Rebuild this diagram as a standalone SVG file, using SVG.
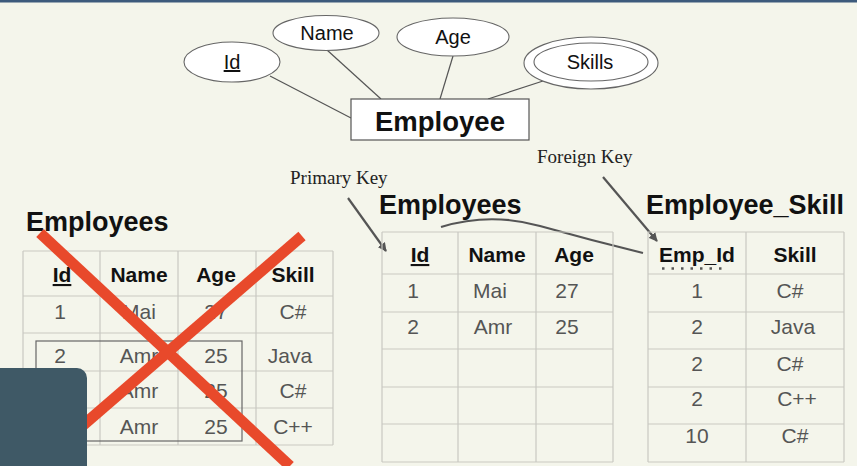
<svg xmlns="http://www.w3.org/2000/svg" width="857" height="466" viewBox="0 0 857 466">
<style>
.bg{fill:#f4f5eb}
.attr{fill:#ffffff;stroke:#666;stroke-width:1.1}
.lnk{stroke:#555;stroke-width:1.2;fill:none}
.grid{stroke:#c9c9c2;stroke-width:1.2;fill:none}
.t{font-family:"Liberation Sans",Arial,sans-serif;fill:#111}
.title{font-family:"Liberation Sans",Arial,sans-serif;font-weight:bold;font-size:27px;fill:#111}
.hd{font-family:"Liberation Sans",Arial,sans-serif;font-weight:bold;font-size:21px;fill:#111;text-anchor:middle}
.cell{font-family:"Liberation Sans",Arial,sans-serif;font-size:21px;fill:#555;text-anchor:middle}
.note{font-family:"Liberation Serif","Times New Roman",serif;font-size:19px;fill:#222}
.arr{stroke:#555;stroke-width:2.2;fill:none}
.x{stroke:#e8492b;stroke-width:11;stroke-linecap:butt}
</style>
<defs>
<marker id="ah" viewBox="0 0 10 10" refX="9" refY="5" markerWidth="4" markerHeight="4" orient="auto">
<path d="M0,0 L10,5 L0,10 z" fill="#555"/>
</marker>
</defs>
<rect class="bg" x="0" y="0" width="857" height="466"/>
<rect x="0" y="0" width="857" height="2.5" fill="#3d5a7c"/>

<g id="connectors">
<line class="lnk" x1="270" y1="76" x2="351" y2="118"/>
<line class="lnk" x1="327" y1="50" x2="381" y2="99"/>
<line class="lnk" x1="453" y1="56" x2="440" y2="99"/>
<line class="lnk" x1="543" y1="81" x2="488" y2="99"/>
<line class="arr" x1="348" y1="198" x2="386" y2="251" marker-end="url(#ah)"/>
<line class="arr" x1="603" y1="177" x2="657" y2="241" marker-end="url(#ah)"/>
<path class="arr" d="M441,227 Q490,212 540,226 T643,253"/>
</g>

<g id="attr-id">
<ellipse class="attr" cx="232" cy="62" rx="48" ry="20"/>
<text class="t" x="232" y="69" font-size="20" text-anchor="middle" text-decoration="underline">Id</text>
</g>
<g id="attr-name">
<ellipse class="attr" cx="326" cy="33" rx="53" ry="17.5"/>
<text class="t" x="327" y="40" font-size="20" text-anchor="middle">Name</text>
</g>
<g id="attr-age">
<ellipse class="attr" cx="453" cy="37" rx="56" ry="19"/>
<text class="t" x="453" y="44" font-size="20" text-anchor="middle">Age</text>
</g>
<g id="attr-skills">
<ellipse class="attr" cx="591" cy="63" rx="67" ry="26"/>
<ellipse class="attr" cx="591" cy="62" rx="57" ry="19"/>
<text class="t" x="590" y="69" font-size="20" text-anchor="middle">Skills</text>
</g>
<g id="entity-employee">
<rect x="351" y="99" width="178" height="41" fill="#ffffff" stroke="#555" stroke-width="1.2"/>
<text class="t" x="440" y="131" font-size="27.5" font-weight="bold" text-anchor="middle">Employee</text>
</g>

<g id="note-pk">
<text class="note" x="290" y="184">Primary Key</text>
</g>
<g id="note-fk">
<text class="note" x="537" y="163">Foreign Key</text>
</g>

<g id="table-old">
<text class="title" x="26" y="231">Employees</text>
<path class="grid" d="M23,251 H333 M23,296 H333 M23,333 H333 M23,371 H333 M23,408 H333 M23,445 H333 M23,251 V445 M100,251 V445 M178,251 V445 M256,251 V445 M333,251 V445"/>
<rect x="36" y="341" width="206" height="100" fill="none" stroke="#666" stroke-width="1.2"/>
<text class="hd" x="62" y="282" text-decoration="underline">Id</text>
<text class="hd" x="139" y="282">Name</text>
<text class="hd" x="216" y="282">Age</text>
<text class="hd" x="293" y="282">Skill</text>
<text class="cell" x="60" y="319">1</text>
<text class="cell" x="139" y="319">Mai</text>
<text class="cell" x="216" y="319">27</text>
<text class="cell" x="293" y="319">C#</text>
<text class="cell" x="60" y="363">2</text>
<text class="cell" x="139" y="363">Amr</text>
<text class="cell" x="216" y="363">25</text>
<text class="cell" x="290" y="363">Java</text>
<text class="cell" x="60" y="398">2</text>
<text class="cell" x="139" y="398">Amr</text>
<text class="cell" x="216" y="398">25</text>
<text class="cell" x="293" y="398">C#</text>
<text class="cell" x="60" y="434">2</text>
<text class="cell" x="139" y="434">Amr</text>
<text class="cell" x="216" y="434">25</text>
<text class="cell" x="293" y="434">C++</text>
<line class="x" x1="40" y1="233" x2="290" y2="466"/>
<line class="x" x1="302" y1="236" x2="36" y2="466"/>
</g>

<g id="table-employees">
<text class="title" x="379" y="214">Employees</text>
<path class="grid" d="M382,232 H613 M382,274 H613 M382,312 H613 M382,349 H613 M382,387 H613 M382,424 H613 M382,462 H613 M382,232 V462 M458,232 V462 M536,232 V462 M613,232 V462"/>
<text class="hd" x="420" y="262" text-decoration="underline">Id</text>
<text class="hd" x="497" y="262">Name</text>
<text class="hd" x="574" y="262">Age</text>
<text class="cell" x="413" y="298">1</text>
<text class="cell" x="490" y="298">Mai</text>
<text class="cell" x="567" y="298">27</text>
<text class="cell" x="413" y="334">2</text>
<text class="cell" x="493" y="334">Amr</text>
<text class="cell" x="567" y="334">25</text>
</g>

<g id="table-employee-skill">
<text class="title" x="646" y="214">Employee_Skill</text>
<path class="grid" d="M648,232 H844 M648,274 H844 M648,312 H844 M648,349 H844 M648,387 H844 M648,424 H844 M648,462 H844 M648,232 V462 M746,232 V462 M844,232 V462"/>
<text class="hd" x="697" y="262">Emp_Id</text>
<line x1="662" y1="268.5" x2="726" y2="268.5" stroke="#555" stroke-width="2.5" stroke-dasharray="2.5,7"/>
<text class="hd" x="795" y="262">Skill</text>
<text class="cell" x="697" y="298">1</text>
<text class="cell" x="790" y="298">C#</text>
<text class="cell" x="697" y="334">2</text>
<text class="cell" x="793" y="334">Java</text>
<text class="cell" x="697" y="371">2</text>
<text class="cell" x="790" y="371">C#</text>
<text class="cell" x="697" y="406">2</text>
<text class="cell" x="797" y="406">C++</text>
<text class="cell" x="697" y="443">10</text>
<text class="cell" x="795" y="443">C#</text>
</g>

<rect x="-12" y="368" width="99" height="110" rx="10" fill="#3f5966"/>
</svg>
